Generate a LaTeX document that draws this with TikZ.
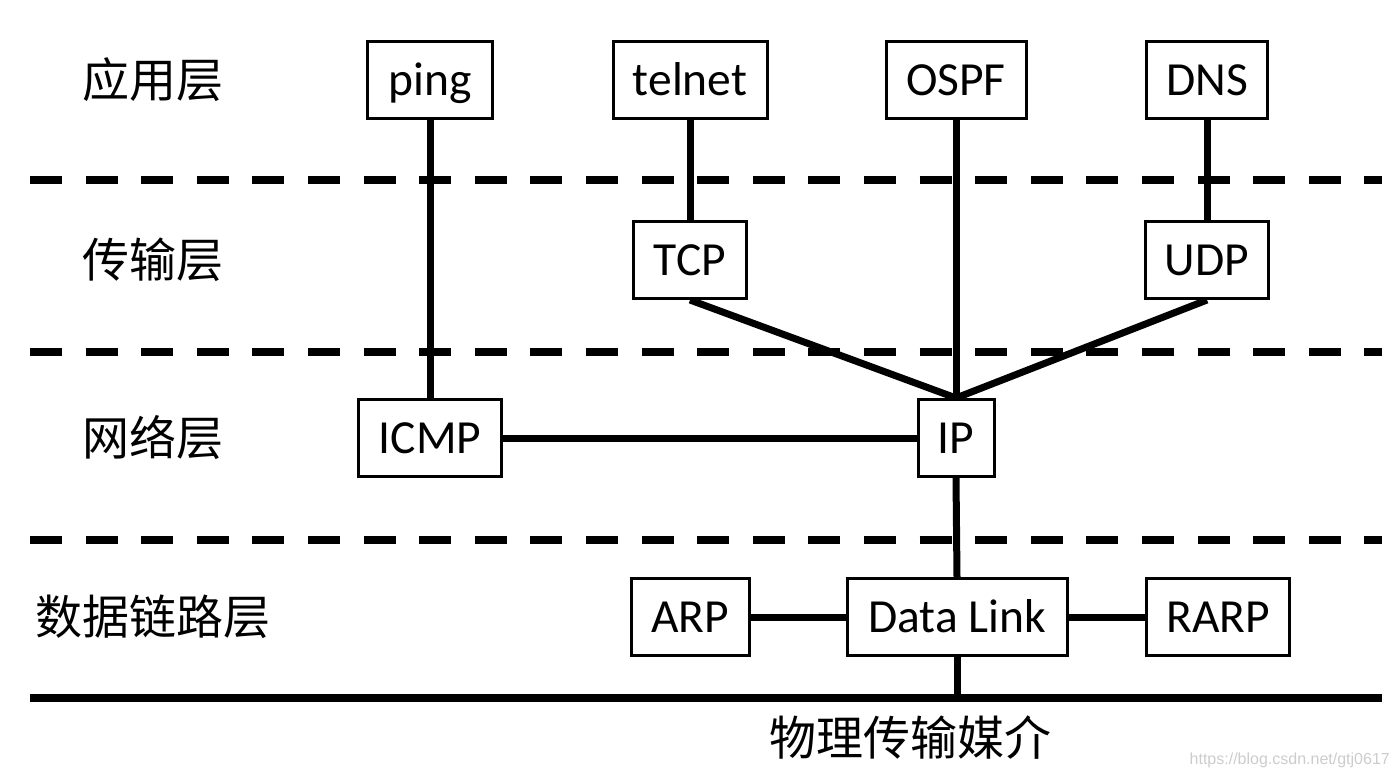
\documentclass[tikz,border=0pt]{standalone}
\usepackage{fontspec}
\setmainfont{Carlito}
\newfontfamily\cjk{Noto Sans CJK SC}
\newfontfamily\wmfont{Liberation Sans}
\usetikzlibrary{backgrounds}
\tikzset{
  proto/.style={draw=black, line width=3pt, fill=white, minimum height=77pt, inner sep=0pt,
    text height=30pt, text depth=-3pt, font=\fontsize{47.5}{50}\selectfont},
  conn/.style={line width=7pt},
  layerline/.style={line width=8pt, dash pattern=on 32pt off 23.6pt},
  phyline/.style={line width=8pt},
  layerlabel/.style={font=\cjk\fontsize{47}{50}\selectfont, inner sep=0pt},
  wm/.style={font=\wmfont\fontsize{16}{18}\selectfont, text=black!20, inner sep=0pt}
}
\begin{document}
\begin{tikzpicture}[x=1pt,y=-1pt]
\useasboundingbox (0,0) rectangle (1400,779);
% layer labels
\node[layerlabel] (l1) at (153,80) {应用层};
\node[layerlabel] (l2) at (153,260) {传输层};
\node[layerlabel] (l3) at (153,438) {网络层};
\node[layerlabel] (l4) at (153,617) {数据链路层};
\node[layerlabel] (l5) at (910,738) {物理传输媒介};
% separators
\coordinate (d1a) at (30,180); \coordinate (d1b) at (1382,180);
\coordinate (d2a) at (30,352); \coordinate (d2b) at (1382,352);
\coordinate (d3a) at (30,540); \coordinate (d3b) at (1382,540);
\coordinate (pa) at (30,698); \coordinate (pb) at (1382,698);
\draw[layerline] (d1a) -- (d1b);
\draw[layerline] (d2a) -- (d2b);
\draw[layerline] (d3a) -- (d3b);
\draw[phyline] (pa) -- (pb);
% protocol boxes
\node[proto, minimum width=125pt] (ping) at (430,80) {ping};
\node[proto, minimum width=154pt] (telnet) at (690,80) {telnet};
\node[proto, minimum width=140pt] (ospf) at (956,80) {OSPF};
\node[proto, minimum width=121pt] (dns) at (1207,80) {DNS};
\node[proto, minimum width=113pt] (tcp) at (690,260) {TCP};
\node[proto, minimum width=123pt] (udp) at (1207,260) {UDP};
\node[proto, minimum width=143pt] (icmp) at (430,438) {ICMP};
\node[proto, minimum width=76pt] (ip) at (956,438) {IP};
\node[proto, minimum width=118pt] (arp) at (690,617) {ARP};
\node[proto, minimum width=220pt] (dl) at (957,617) {Data Link};
\node[proto, minimum width=143pt] (rarp) at (1218,617) {RARP};
% watermark
\node[wm, anchor=east] (wmk) at (1390,760) {https://blog.csdn.net/gtj0617};
% connectors
\begin{scope}[on background layer]
\draw[conn] (ping.south) -- (icmp.north);
\draw[conn] (telnet.south) -- (tcp.north);
\draw[conn] (dns.south) -- (udp.north);
\draw[conn] (ospf.south) -- (ip.north);
\draw[conn] (tcp.south) -- (ip.north);
\draw[conn] (udp.south) -- (ip.north);
\draw[conn] (icmp.east) -- (ip.west);
\draw[conn] (ip.south) -- (dl.north);
\draw[conn] (arp.east) -- (dl.west);
\draw[conn] (dl.east) -- (rarp.west);
\draw[conn] (dl.south) -- (dl.south |- pa);
\end{scope}
\end{tikzpicture}
\end{document}
